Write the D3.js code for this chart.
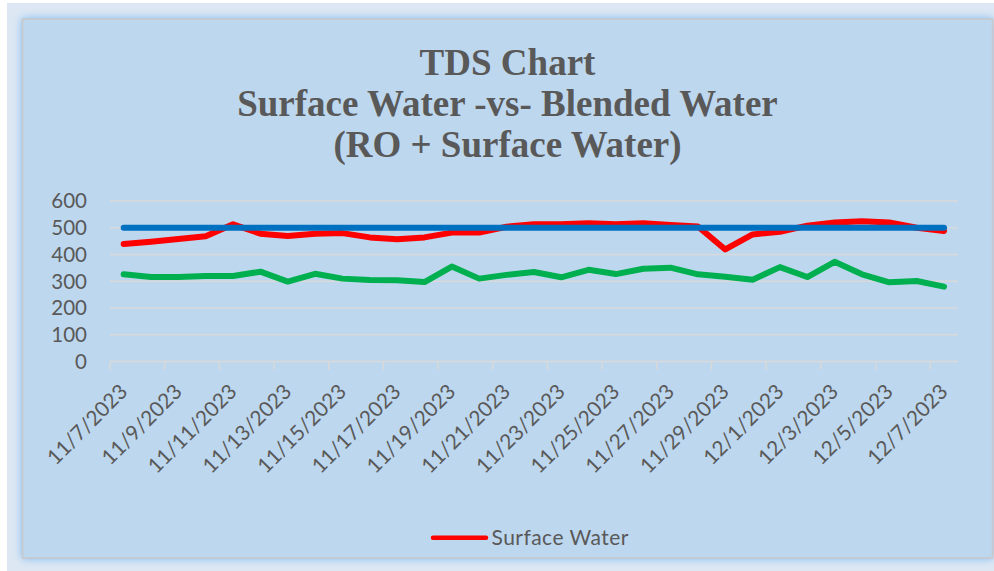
<!DOCTYPE html>
<html>
<head>
<meta charset="utf-8">
<script src="https://cdn.jsdelivr.net/npm/d3@7"></script>
<style>
  body { margin: 0; background: #ffffff; }
  svg { display: block; }
</style>
</head>
<body>
<div id="theChart"></div>
<script>
// Dates on the category axis
const dates = [
    "11/7/2023", "11/8/2023", "11/9/2023", "11/10/2023", "11/11/2023", "11/12/2023",
    "11/13/2023", "11/14/2023", "11/15/2023", "11/16/2023", "11/17/2023", "11/18/2023",
    "11/19/2023", "11/20/2023", "11/21/2023", "11/22/2023", "11/23/2023", "11/24/2023",
    "11/25/2023", "11/26/2023", "11/27/2023", "11/28/2023", "11/29/2023", "11/30/2023",
    "12/1/2023", "12/2/2023", "12/3/2023", "12/4/2023", "12/5/2023", "12/6/2023", "12/7/2023"
];

// TDS values
const surfaceWater = [439, 448, 458, 468, 513, 478, 469, 478, 480, 464, 457, 464, 482, 482, 504, 513,
                      513, 517, 513, 517, 510, 505, 419, 475, 485, 508, 520, 524, 520, 500, 488];
const blendedWater = [326, 316, 316, 320, 320, 336, 299, 328, 310, 305, 304, 297, 355, 310, 324, 335,
                      315, 343, 327, 347, 351, 326, 317, 306, 353, 316, 373, 326, 296, 301, 280];
const limitLine = dates.map(() => 500);

const yTicks = [0, 100, 200, 300, 400, 500, 600];
const titleLines = ["TDS Chart", "Surface Water -vs- Blended Water", "(RO + Surface Water)"];

const width = 994, height = 571,
    box = {left: 22.5, top: 19, right: 992.5, bottom: 558},
    plot = {left: 110, right: 957.7, top: 201, bottom: 361.6};

const labelFont = "Lato, 'Open Sans', sans-serif";
const textGrey = "#595959";

const svg = d3.select("#theChart")
            .append("svg")
                .attr("width", width)
                .attr("height", height);

// soft blue glow round the chart box
const defs = svg.append("defs");
const glow = defs.append("filter")
    .attr("id", "glow")
    .attr("x", "-5%").attr("y", "-5%")
    .attr("width", "110%").attr("height", "110%");
glow.append("feDropShadow")
    .attr("dx", 0).attr("dy", 0)
    .attr("stdDeviation", 4)
    .attr("flood-color", "#7fbcf3")
    .attr("flood-opacity", 1);

svg.append("rect")
    .attr("x", 7).attr("y", 3)
    .attr("width", width - 7).attr("height", height - 3)
    .style("fill", "#dde7f3");

svg.append("rect")
    .attr("x", box.left).attr("y", box.top)
    .attr("width", box.right - box.left)
    .attr("height", box.bottom - box.top)
    .attr("filter", "url(#glow)")
    .style("fill", "#bdd7ee")
    .style("stroke", "#c8c8c8")
    .style("stroke-width", 1.5);

// Title
svg.append("g").selectAll("text")
    .data(titleLines)
    .enter()
    .append("text")
        .attr("x", (box.left + box.right) / 2)
        .attr("y", (d, i) => 75 + i * 41)
        .attr("text-anchor", "middle")
        .style("font-family", "'Liberation Serif', 'Times New Roman', serif")
        .style("font-weight", "bold")
        .style("font-size", "37px")
        .style("fill", textGrey)
        .text(d => d);

const xScale = d3.scaleBand()
                    .domain(dates)
                    .range([plot.left, plot.right])
                    .padding(0);
const yScale = d3.scaleLinear()
                    .domain([0, 600])
                    .range([plot.bottom, plot.top]);
const xPos = d => xScale(d) + xScale.bandwidth() / 2;

// Gridlines
svg.append("g").selectAll("line")
    .data(yTicks)
    .enter()
    .append("line")
        .attr("x1", plot.left).attr("x2", plot.right)
        .attr("y1", d => yScale(d)).attr("y2", d => yScale(d))
        .style("stroke", "#d9d9d9")
        .style("stroke-width", 1.5);

// y labels
svg.append("g").selectAll("text")
    .data(yTicks)
    .enter()
    .append("text")
        .attr("x", 87)
        .attr("y", d => yScale(d))
        .attr("dy", "0.36em")
        .attr("text-anchor", "end")
        .style("font-family", labelFont)
        .style("font-size", "20.5px")
        .style("fill", textGrey)
        .text(d => d);

// x tick marks every second category
const tickDates = dates.filter((d, i) => i % 2 === 0);
svg.append("g").selectAll("line")
    .data(tickDates)
    .enter()
    .append("line")
        .attr("x1", d => xScale(d)).attr("x2", d => xScale(d))
        .attr("y1", plot.bottom).attr("y2", plot.bottom + 8)
        .style("stroke", "#d9d9d9")
        .style("stroke-width", 1.5);

// x labels, rotated
svg.append("g").selectAll("text")
    .data(tickDates)
    .enter()
    .append("text")
        .attr("transform", d => `translate(${xPos(d) + 5}, 393) rotate(-45)`)
        .attr("text-anchor", "end")
        .style("font-family", labelFont)
        .style("font-size", "20.8px")
        .style("fill", textGrey)
        .text(d => d);

// Series lines
const line = d3.line()
    .x((d, i) => xPos(dates[i]))
    .y(d => yScale(d));

const series = [
    {name: "Surface Water", values: surfaceWater, color: "#ff0000"},
    {name: "Blended Water", values: blendedWater, color: "#00b050"},
    {name: "Limit", values: limitLine, color: "#0070c0"}
];

svg.append("g").selectAll("path")
    .data(series)
    .enter()
    .append("path")
        .attr("d", d => line(d.values))
        .style("fill", "none")
        .style("stroke", d => d.color)
        .style("stroke-width", 6)
        .style("stroke-linejoin", "round")
        .style("stroke-linecap", "round");

// Legend (only the surface water entry is shown)
const legend = svg.append("g");
legend.append("line")
    .attr("x1", 433).attr("x2", 486)
    .attr("y1", 537.7).attr("y2", 537.7)
    .style("stroke", series[0].color)
    .style("stroke-width", 4.5)
    .style("stroke-linecap", "round");
legend.append("text")
    .attr("x", 491.5)
    .attr("y", 545)
    .attr("textLength", 137)
    .style("font-family", labelFont)
    .style("font-size", "21px")
    .style("fill", textGrey)
    .text(series[0].name);
</script>
</body>
</html>
